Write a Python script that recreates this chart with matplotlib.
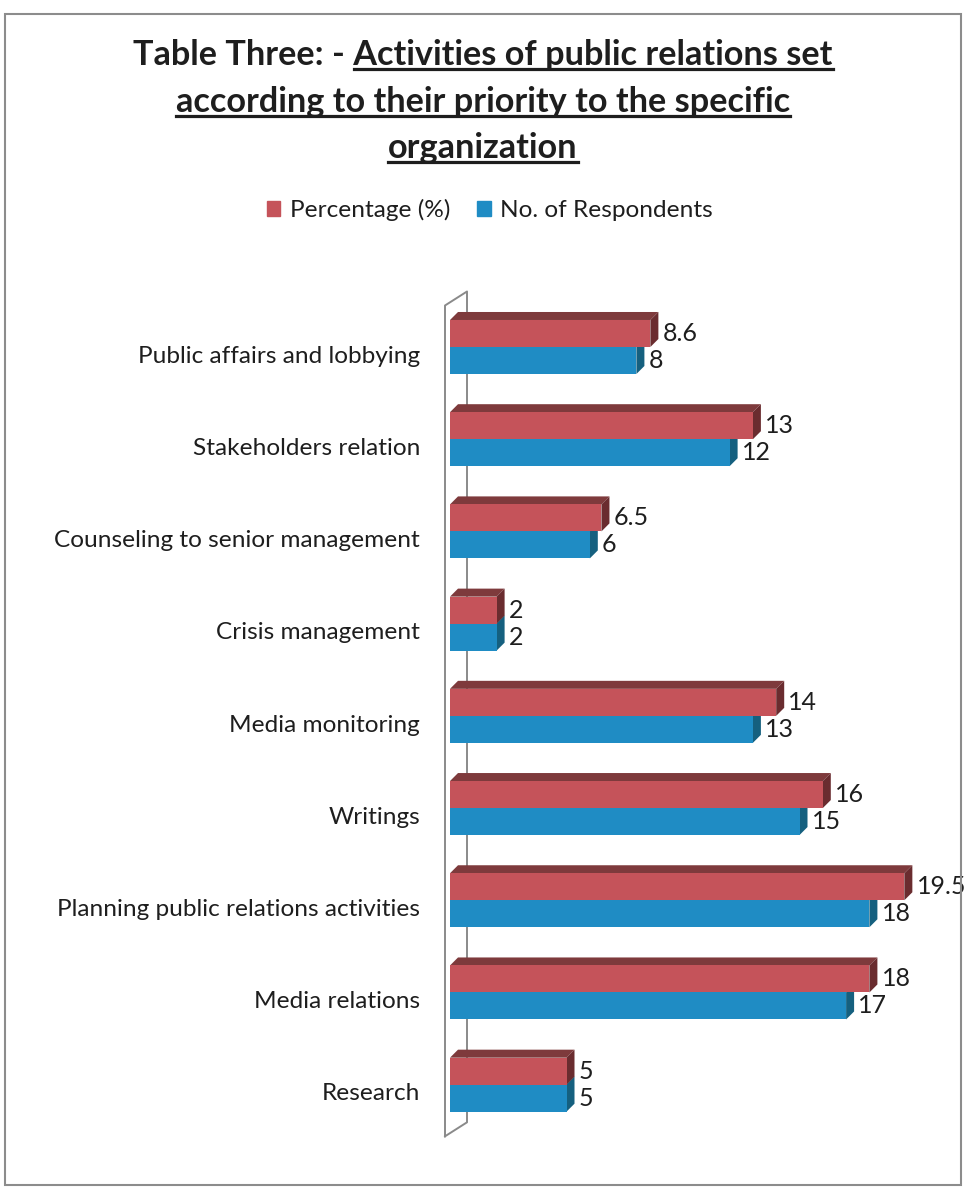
import matplotlib
matplotlib.use("Agg")
import matplotlib.pyplot as plt
from matplotlib.patches import Polygon, Rectangle, Patch
from matplotlib.lines import Line2D

plt.rcParams["font.family"] = ["Lato", "DejaVu Sans"]

categories = [
    "Public affairs and lobbying",
    "Stakeholders relation",
    "Counseling to senior management",
    "Crisis management",
    "Media monitoring",
    "Writings",
    "Planning public relations activities",
    "Media relations",
    "Research",
]
percentage = [8.6, 13, 6.5, 2, 14, 16, 19.5, 18, 5]
respondents = [8, 12, 6, 2, 13, 15, 18, 17, 5]
value_labels_pct = ["8.6", "13", "6.5", "2", "14", "16", "19.5", "18", "5"]
value_labels_resp = ["8", "12", "6", "2", "13", "15", "18", "17", "5"]

red_front, red_top, red_side = "#C5535A", "#7E3A3C", "#6A2C2F"
blue_front, blue_top, blue_side = "#1F8CC4", "#1A6488", "#15607F"
txt = "#1E1E1E"

W, H = 966, 1190
fig = plt.figure(figsize=(W / 100, H / 100), dpi=100)

# axes placed in pixel units: value 0 at x=450, 23.3 px per unit
x0_px, px_per_unit = 450, 23.3
xmax = 21.0
y_top_px, y_bot_px = 290, 1140
ymin_d, ymax_d = -0.618, 8.6
ax = fig.add_axes([x0_px / W, 1 - y_bot_px / H,
                   xmax * px_per_unit / W, (y_bot_px - y_top_px) / H])
ax.set_xlim(0, xmax)
ax.set_ylim(ymax_d, ymin_d)
ax.axis("off")

px_per_y = (y_bot_px - y_top_px) / (ymax_d - ymin_d)
bar_h = 27 / px_per_y
dx = 8 / px_per_unit          # depth offset to the right
dy = -8 / px_per_y            # depth offset upward

# thin back wall behind the bars
wl, wr = -5 / px_per_unit, 17 / px_per_unit
wb, wt = 8.56, -0.45
wdy = -14 / px_per_y
wall = [(wl, wb), (wl, wt), (wr, wt + wdy), (wr, wb + wdy), (wl, wb)]
ax.plot([p[0] for p in wall], [p[1] for p in wall], color="#8A8A8A", lw=1.4,
        clip_on=False, zorder=1)


def bar3d(v, top, front, topc, sidec, z):
    bottom = top + bar_h
    ax.add_patch(Polygon([(0, top), (v, top), (v + dx, top + dy), (dx, top + dy)],
                         closed=True, fc=topc, ec="none", zorder=z))
    ax.add_patch(Polygon([(v, top), (v + dx, top + dy), (v + dx, bottom + dy), (v, bottom)],
                         closed=True, fc=sidec, ec="none", zorder=z))
    ax.barh(top + bar_h / 2, v, height=bar_h, color=front, zorder=z + 0.5)


for i in range(len(categories)):
    rtop = i - bar_h
    btop = i
    bar3d(respondents[i], btop, blue_front, blue_top, blue_side, 2)
    bar3d(percentage[i], rtop, red_front, red_top, red_side, 3)
    ax.text(percentage[i] + dx + 0.18, rtop + bar_h / 2, value_labels_pct[i],
            va="center", ha="left", fontsize=18, color=txt, zorder=5, clip_on=False)
    ax.text(respondents[i] + dx + 0.18, btop + bar_h / 2, value_labels_resp[i],
            va="center", ha="left", fontsize=18, color=txt, zorder=5, clip_on=False)
    ax.text(-30 / px_per_unit, i + 0.1, categories[i], va="center", ha="right",
            fontsize=17.6, color=txt)

# legend
fig.legend(handles=[Patch(color=red_front, label="Percentage (%)"),
                    Patch(color=blue_front, label="No. of Respondents")],
           loc="center", bbox_to_anchor=(490 / W, 1 - 210 / H), ncol=2,
           frameon=False, fontsize=17.6, handlelength=0.55, handleheight=0.55,
           handletextpad=0.4, columnspacing=1.1, labelcolor=txt)

# title, partly underlined
title_lines = [
    ("Table Three: - Activities of public relations set", "Activities of public relations set", 65),
    ("according to their priority to the specific", "according to their priority to the specific", 112),
    ("organization", "organization", 158),
]
renderer = fig.canvas.get_renderer()
for full, part, base in title_lines:
    t = fig.text(483 / W, 1 - base / H, full, ha="center", va="baseline",
                 fontsize=24.7, fontweight="bold", color=txt)
    bb = t.get_window_extent(renderer)
    probe = fig.text(0, 0, part, fontsize=24.7, fontweight="bold")
    pw = probe.get_window_extent(renderer).width
    probe.remove()
    uy = 1 - (base + 4) / H
    fig.add_artist(Line2D([(bb.x1 - pw) / W, bb.x1 / W], [uy, uy],
                          color=txt, lw=2.3, transform=fig.transFigure))

# outer frame
fig.add_artist(Rectangle((5 / W, 1 - 1185 / H), 956 / W, 1171 / H, fill=False,
                         ec="#8C8C8C", lw=1.5, transform=fig.transFigure))

fig.savefig("out.png", dpi=100)
